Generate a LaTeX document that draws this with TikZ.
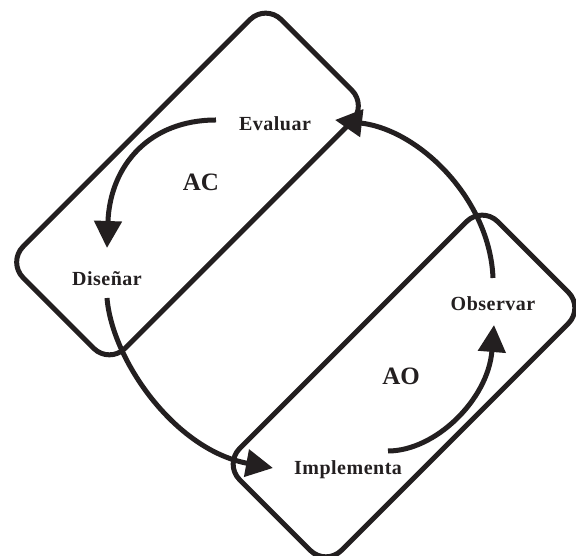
\documentclass[tikz,border=0pt]{standalone}
\usepackage{fontspec}
\setmainfont{Liberation Serif}
\newfontfamily\labelfont[LetterSpace=2.5]{Liberation Serif}
\usetikzlibrary{arrows.meta}
\definecolor{ink}{HTML}{231F20}
\begin{document}
\begin{tikzpicture}[x=1pt,y=1pt,
  cyclebox/.style={draw=ink, line width=5pt, rounded corners=22pt,
    rotate=45, minimum width=365pt, minimum height=144pt, inner sep=0pt},
  stage/.style={text=ink, font=\labelfont\bfseries\fontsize{20}{22}\selectfont, inner sep=0pt},
  loopname/.style={text=ink, font=\bfseries\fontsize{25}{28}\selectfont, inner sep=0pt},
  flow/.style={draw=ink, line width=5pt,
    -{Triangle[length=27pt,width=27pt]}}
]
\useasboundingbox (0,0) rectangle (576,556);

% the two tilted loops
\node[cyclebox] (acbox) at (187.5,372) {};
\node[cyclebox] (aobox) at (404,170) {};

% stage labels
\node[stage] (ev) at (275,432) {Evaluar};
\node[stage] (di) at (107,277) {Diseñar};
\node[stage] (ob) at (493,252) {Observar};
\node[stage] (im) at (348,86) {Implementa};

% loop names
\node[loopname] (ac) at (201,374) {AC};
\node[loopname] (ao) at (401,180) {AO};

% arrows between stages
\draw[flow] ([shift={(-59,4)}]ev.center)
  .. controls (150,436) and (110,391) .. ([shift={(0,31)}]di.center);
\draw[flow] ([shift={(0,-19)}]di.center)
  .. controls (112,196) and (175,106) .. ([shift={(-75,2)}]im.center);
\draw[flow] ([shift={(40,19)}]im.center)
  .. controls (435,105) and (488,156) .. ([shift={(1,-21)}]ob.center);
\draw[flow] ([shift={(0,26)}]ob.center)
  .. controls (490,356) and (420,426) .. ([shift={(60,4)}]ev.center);
\end{tikzpicture}
\end{document}
